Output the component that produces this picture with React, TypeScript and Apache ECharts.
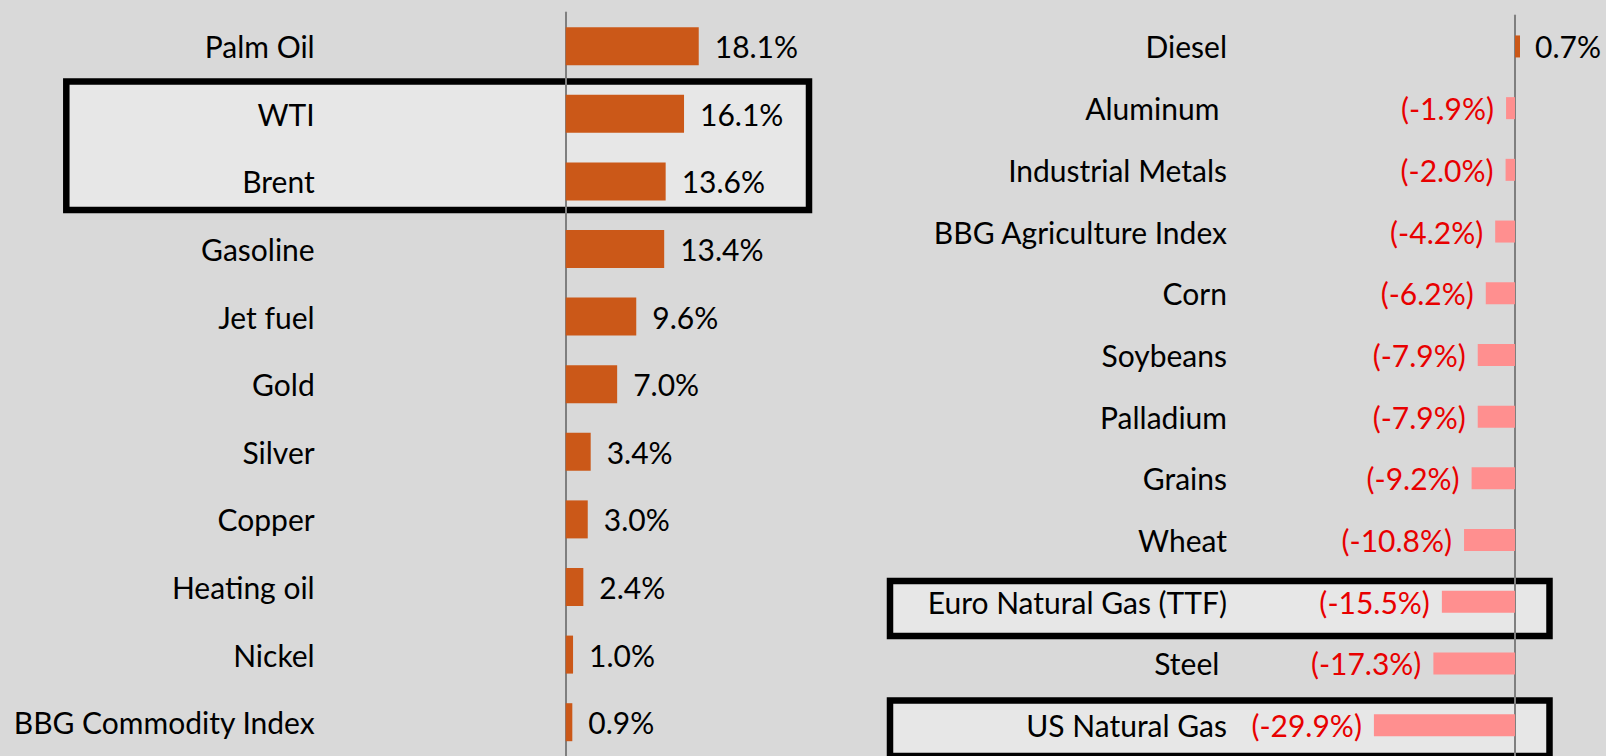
import React, { useEffect, useRef } from "react";
import * as echarts from "echarts";

const leftCategories = ["Palm Oil", "WTI", "Brent", "Gasoline", "Jet fuel", "Gold", "Silver", "Copper", "Heating oil", "Nickel", "BBG Commodity Index"];
const leftValues = [18.1, 16.1, 13.6, 13.4, 9.6, 7.0, 3.4, 3.0, 2.4, 1.0, 0.9];

const rightCategories = ["Diesel", "Aluminum ", "Industrial Metals", "BBG Agriculture Index", "Corn", "Soybeans", "Palladium", "Grains", "Wheat", "Euro Natural Gas (TTF)", "Steel ", "US Natural Gas"];
const rightValues = [0.7, -1.9, -2.0, -4.2, -6.2, -7.9, -7.9, -9.2, -10.8, -15.5, -17.3, -29.9];

const ORANGE = "#CB5818";
const PINK = "#FF8F8F";
const RED = "#E80000";
const FONT = "Lato";
const FS = 30;

function fmt(v: number) {
  return v < 0 ? `(${v.toFixed(1)}%)` : `${v.toFixed(1)}%`;
}

export default function App() {
  const ref = useRef<HTMLDivElement>(null);
  useEffect(() => {
    if (!ref.current) return;
    const chart = echarts.init(ref.current, undefined, { renderer: "svg" });
    const axisLine = { show: true, onZero: true, lineStyle: { color: "#7F7F7F", width: 2 } };
    chart.setOption({
      animation: false,
      backgroundColor: "#D9D9D9",
      grid: [
        { left: 565.7, top: 12.4, width: 220.5, height: 749.7 },
        { left: 1364, top: 15.6, width: 169.9, height: 747 },
      ],
      xAxis: [
        { type: "value", gridIndex: 0, min: 0, max: 30, show: false },
        { type: "value", gridIndex: 1, min: -32, max: 4, show: false },
      ],
      yAxis: [
        {
          type: "category", gridIndex: 0, data: leftCategories, inverse: true,
          axisLine, axisTick: { show: false }, splitLine: { show: false },
          axisLabel: { margin: 251, color: "#000", fontSize: FS, fontFamily: FONT },
        },
        {
          type: "category", gridIndex: 1, data: rightCategories, inverse: true,
          axisLine, axisTick: { show: false }, splitLine: { show: false },
          axisLabel: { margin: 137, color: "#000", fontSize: FS, fontFamily: FONT },
        },
      ],
      graphic: [
        { type: "rect", z: -10, shape: { x: 66.3, y: 81.5, width: 742.7, height: 128.5 }, style: { fill: "#E7E7E7", stroke: "#000", lineWidth: 6.5 } },
        { type: "rect", z: -10, shape: { x: 890, y: 581, width: 659.5, height: 55 }, style: { fill: "#E7E7E7", stroke: "#000", lineWidth: 6.5 } },
        { type: "rect", z: -10, shape: { x: 890, y: 700.5, width: 659.5, height: 55.5 }, style: { fill: "#E7E7E7", stroke: "#000", lineWidth: 6.5 } },
      ],
      series: [
        {
          type: "bar", xAxisIndex: 0, yAxisIndex: 0, barWidth: 38,
          data: leftValues,
          itemStyle: { color: ORANGE },
          label: {
            show: true, position: "right", distance: 16, color: "#000",
            fontSize: FS, fontFamily: FONT,
            formatter: (p: any) => fmt(p.value),
          },
        },
        {
          type: "bar", xAxisIndex: 1, yAxisIndex: 1, barWidth: 22, barMinHeight: 5,
          data: rightValues.map((v) => ({
            value: v,
            itemStyle: { color: v >= 0 ? ORANGE : PINK },
            label: v >= 0
              ? { position: "right", distance: 15, color: "#000" }
              : { position: "left", distance: 12, color: RED },
          })),
          label: {
            show: true, fontSize: FS, fontFamily: FONT,
            formatter: (p: any) => fmt(p.value),
          },
        },
      ],
    });
    return () => chart.dispose();
  }, []);
  return <div ref={ref} style={{ position: "absolute", left: 0, top: 0, width: 1606, height: 756 }} />;
}
